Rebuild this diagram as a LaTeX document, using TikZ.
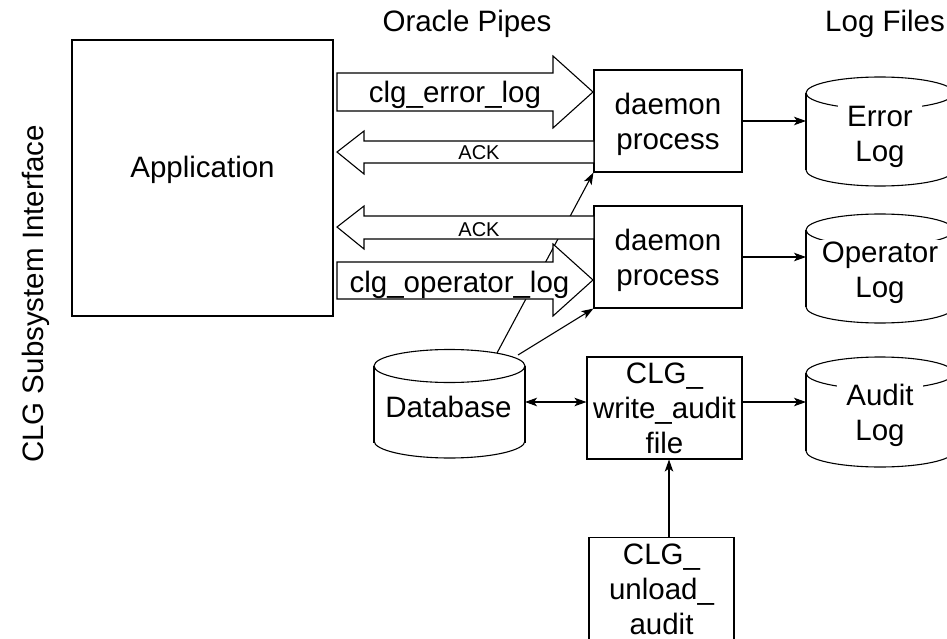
\documentclass[tikz,border=0pt]{standalone}
\usepackage{fontspec}
\setmainfont{Liberation Sans}
\usetikzlibrary{arrows.meta,calc}
\newcommand{\bigf}{\fontsize{29.5}{35}\selectfont}
\newcommand{\smallf}{\fontsize{20}{24}\selectfont}
\newcommand{\cylbottom}[4]{\draw[ln] ({#1-#3},#2) .. controls ({#1-#3},{#2+0.5523*#4}) and ({#1-0.5523*#3},{#2+#4}) .. (#1,{#2+#4}) .. controls ({#1+0.5523*#3},{#2+#4}) and ({#1+#3},{#2+0.5523*#4}) .. ({#1+#3},#2);}
\begin{document}
\begin{tikzpicture}[x=1pt,y=-1pt,
  ln/.style={line width=1.1pt},
  arr/.style={ln, -{Stealth[length=12pt,width=8.5pt,inset=3pt]}},
  darr/.style={ln, {Stealth[length=12pt,width=8.5pt,inset=3pt]}-{Stealth[length=12pt,width=8.5pt,inset=3pt]}},
  box/.style={draw, ln, rectangle, inner sep=0pt, align=center, font=\bigf},
  blk/.style={draw, ln, fill=white, line join=miter},
  cyltxt/.style={fill=white, inner xsep=9pt, inner ysep=2pt, align=center, font=\bigf},
  lbl/.style={font=\bigf, anchor=base},
  slbl/.style={font=\smallf, anchor=base}]
\useasboundingbox (0,0) rectangle (947,639);
\fill[white] (0,0) rectangle (947,639);
\clip (0,0) rectangle (947,639);

% titles
\node[lbl] (t1) at (467,32) {Oracle Pipes};
\node[font=\bigf, anchor=base west, inner sep=0pt] (t2) at (825,32) {Log Files};
\node[font=\bigf, rotate=90, anchor=base] (t3) at (43,294) {CLG Subsystem Interface};

% boxes
\node[box, minimum width=261pt, minimum height=276pt, text depth=22pt] (app) at (202.5,178) {Application};
\node[box, minimum width=148pt, minimum height=102pt] (d1) at (668,121) {\rule{0pt}{29pt}daemon\\process};
\node[box, minimum width=148pt, minimum height=102pt] (d2) at (668,257) {\rule{0pt}{29pt}daemon\\process};
\node[box, minimum width=155pt, minimum height=102pt] (wa) at (664.5,408) {CLG\_\\write\_audit\\file};
\node[box, minimum width=145pt, minimum height=104pt, anchor=north] (un) at (661.5,537) {CLG\_\\unload\_\\audit};

% database cylinder
\draw[ln] (449.5,366) ellipse [x radius=75.5pt, y radius=16.5pt];
\draw[ln] (374,366) -- (374,443);
\draw[ln] (525,366) -- (525,443);
\cylbottom{449.5}{441}{75.5}{17}
\node[font=\bigf] (db) at (448.5,406.5) {Database};

% log cylinders
\foreach \t/\b in {93/170, 230/307, 373/451}{
  \draw[ln] (880,\t) ellipse [x radius=74pt, y radius=16pt];
  \draw[ln] (806,\t) -- (806,\b);
  \draw[ln] (954,\t) -- (954,\b);
  \cylbottom{880}{\b}{74}{16}
}
\node[cyltxt] (el) at (880,137) {Error\\Log};
\node[cyltxt] (ol) at (880,273) {Operator\\Log};
\node[cyltxt] (al) at (880,415) {Audit\\Log};

% coordinates
\coordinate (db1) at (497,353);
\coordinate (db2) at (518,355);
\coordinate (dbe) at (525,402);
\coordinate (c1) at (806,121);
\coordinate (c2) at (806,257);
\coordinate (c3) at (806,402);
\coordinate (ux) at (669,0);

% connectors
\draw[arr] (db1) -- (d1.south west);
\draw[arr] (db2) -- (d2.south west);
\draw[darr] (dbe) -- (dbe -| wa.west);
\draw[arr] (d1.east) -- (c1);
\draw[arr] (d2.east) -- (c2);
\draw[arr] (c3 -| wa.east) -- (c3);
\draw[arr] (un.north -| ux) -- (wa.south -| ux);

% pipe block arrows
\draw[blk] (337,73) -- (553,73) -- (553,56) -- (593,92) -- (553,128) -- (553,111) -- (337,111) -- cycle;
\draw[blk] (594,141) -- (364,141) -- (364,131) -- (337,152) -- (364,174) -- (364,163) -- (594,163) -- cycle;
\draw[blk] (594,216) -- (364,216) -- (364,206) -- (337,227) -- (364,249) -- (364,239) -- (594,239) -- cycle;
\draw[blk] (337,262) -- (553,262) -- (553,244) -- (593,280) -- (553,316) -- (553,299) -- (337,299) -- cycle;
\node[lbl] (pe) at (455,103) {clg\_error\_log};
\node[slbl] (a1) at (479,160) {ACK};
\node[slbl] (a2) at (479,236) {ACK};
\node[lbl] (po) at (459.5,292) {clg\_operator\_log};
\end{tikzpicture}
\end{document}
